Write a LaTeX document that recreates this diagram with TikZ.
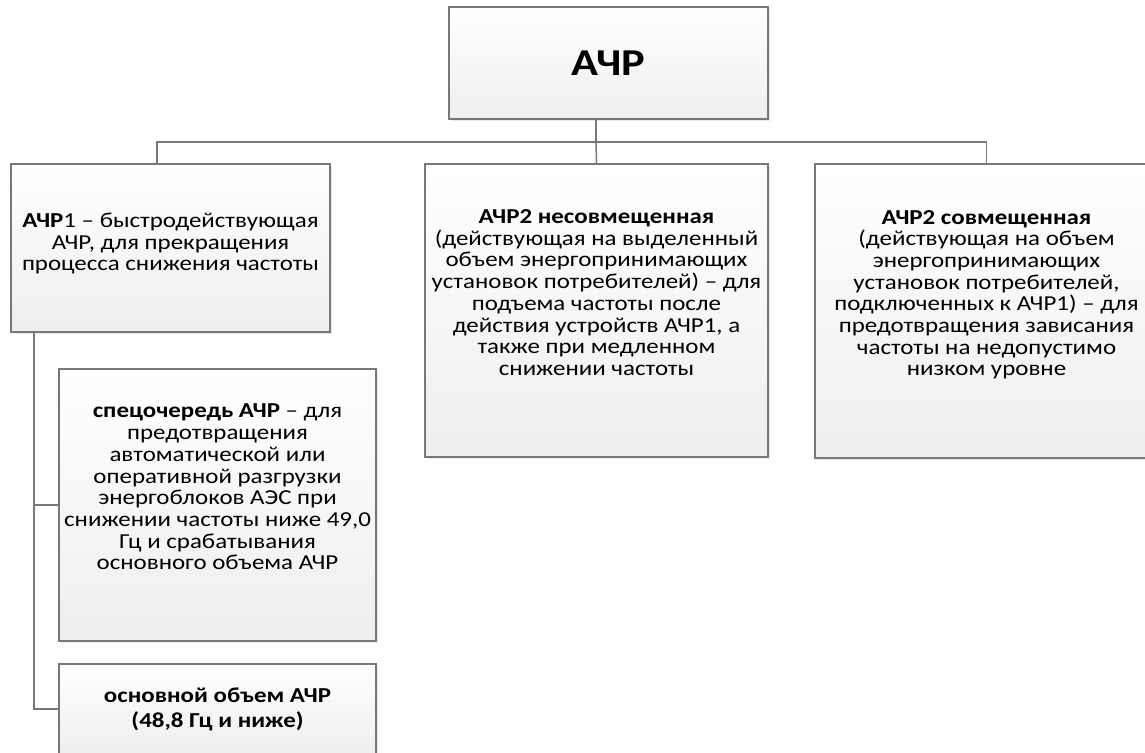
\documentclass[tikz,border=0pt]{standalone}
\usepackage{fontspec}
\setmainfont{Carlito}[FakeStretch=1.17]
\usetikzlibrary{calc,shadows}
\definecolor{edge}{RGB}{120,120,120}
\definecolor{fade}{RGB}{238,238,238}

\begin{document}
\begin{tikzpicture}[x=0.5pt, y=-0.5pt,
  box/.style={draw=edge, line width=0.9pt, top color=white, bottom color=fade, align=center,
    font=\fontsize{10.65}{10.85}\selectfont, inner sep=0pt,
    drop shadow={shadow xshift=1.2pt, shadow yshift=-1.2pt, opacity=0.18}},
  head/.style={box, font=\fontsize{19}{22}\selectfont\bfseries},
  lift/.style={text depth=18pt},
  link/.style={draw=edge, line width=0.75pt}
]
  \useasboundingbox (0,0) rectangle (1145,753);
  \node[head, minimum width=159.5pt, minimum height=56pt] (achr) at (608.5,63) {АЧР};
  \node[box, minimum width=159.5pt, minimum height=84pt, text depth=6pt] (a1) at (170.5,248)
    {\textbf{АЧР}1 – быстродействующая\\ АЧР, для прекращения\\ процесса снижения частоты};
  \node[box, lift, minimum width=171.5pt, minimum height=146.5pt] (a2n) at (596.5,310.5)
    {\textbf{АЧР2 несовмещенная}\\ (действующая на выделенный\\ объем энергопринимающих\\ установок потребителей) – для\\ подъема частоты после\\ действия устройств АЧР1, а\\ также при медленном\\ снижении частоты};
  \node[box, lift, minimum width=171.5pt, minimum height=147pt] (a2s) at (986.5,311)
    {\textbf{АЧР2 совмещенная}\\ (действующая на объем\\ энергопринимающих\\ установок потребителей,\\ подключенных к АЧР1) – для\\ предотвращения зависания\\ частоты на недопустимо\\ низком уровне};
  \node[box, lift, minimum width=158.5pt, minimum height=136pt] (spec) at (217.5,505)
    {\textbf{спецочередь АЧР} – для\\ предотвращения\\ автоматической или\\ оперативной разгрузки\\ энергоблоков АЭС при\\ снижении частоты ниже 49,0\\ Гц и срабатывания\\ основного объема АЧР};
  \node[box, minimum width=158.5pt, minimum height=45pt] (base) at (217.5,709)
    {\textbf{основной объем АЧР}\\[1.6pt] \textbf{(48,8 Гц и ниже)}};

  \coordinate (bus) at (596,142);
  \coordinate (spine) at ($(a1.south west)+(24,0)$);

  \draw[link] (achr.south -| bus) -- (bus);
  \draw[link] ($(a1.north)+(-13.5,0)$) |- (bus) -| (a2s.north);
  \draw[link] (bus) -- (a2n.north);
  \draw[link] (spine) |- (spec.west);
  \draw[link] (spine) |- (base.west);
\end{tikzpicture}
\end{document}
